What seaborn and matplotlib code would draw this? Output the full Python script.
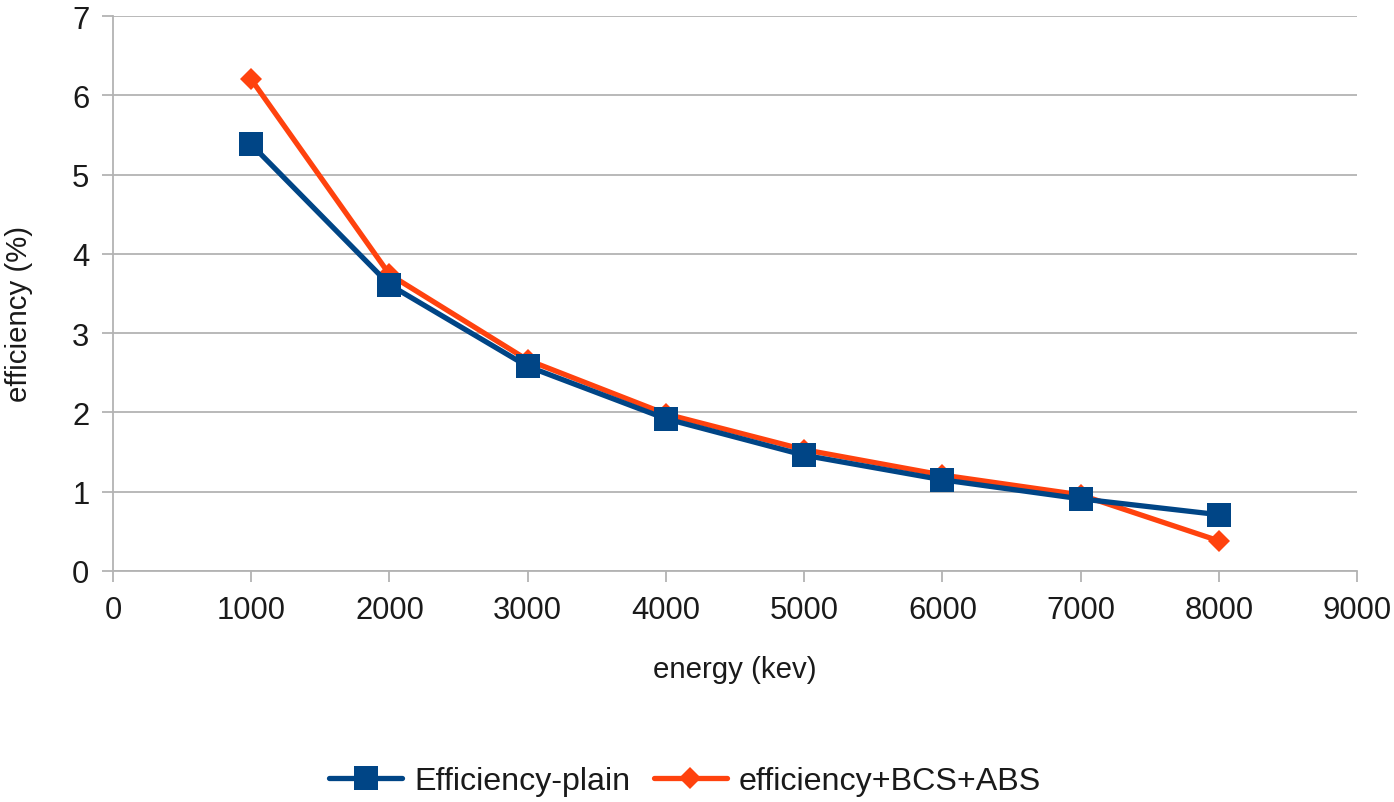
import matplotlib
matplotlib.use("Agg")
import matplotlib.pyplot as plt
import seaborn as sns
import pandas as pd
from matplotlib.lines import Line2D

energy = [1000, 2000, 3000, 4000, 5000, 6000, 7000, 8000]
eff_plain = [5.38, 3.61, 2.58, 1.92, 1.46, 1.15, 0.91, 0.71]
eff_bcs_abs = [6.20, 3.74, 2.66, 1.98, 1.53, 1.21, 0.96, 0.38]
series_names = ["Efficiency-plain", "efficiency+BCS+ABS"]
x_ticks = [0, 1000, 2000, 3000, 4000, 5000, 6000, 7000, 8000, 9000]
y_ticks = [0, 1, 2, 3, 4, 5, 6, 7]

sns.set_theme(style="white")
plt.rcParams['font.family'] = ['Liberation Sans', 'DejaVu Sans']

df = pd.DataFrame({
    "energy": energy * 2,
    "eff": eff_plain + eff_bcs_abs,
    "series": [series_names[0]] * len(energy) + [series_names[1]] * len(energy),
})

colors = {series_names[0]: "#004586", series_names[1]: "#ff420e"}
markers = {series_names[0]: "s", series_names[1]: "D"}

fig = plt.figure(figsize=(13.94, 8.03), dpi=100)
ax = fig.add_axes([0.0811, 0.2877, 0.8924, 0.6911])

grid_c = "#b3b3b3"
for s in series_names:
    sub = df[df.series == s]
    sns.lineplot(data=sub, x="energy", y="eff", ax=ax, color=colors[s],
                 marker=markers[s], markersize=17 if s == series_names[0] else 11,
                 markeredgewidth=0, linewidth=3.8, legend=False,
                 zorder=3 if s == series_names[0] else 2)

ax.set_xlim(0, 9000)
ax.set_ylim(0, 7)
ax.set_xticks(x_ticks)
ax.set_yticks(y_ticks)
ax.set_xticklabels([str(v) for v in x_ticks])
ax.set_yticklabels([str(v) for v in y_ticks])
ax.yaxis.grid(True, color=grid_c, linewidth=1.3)
ax.xaxis.grid(False)
for sp in ["top", "right"]:
    ax.spines[sp].set_visible(False)
for sp in ["left", "bottom"]:
    ax.spines[sp].set_color(grid_c)
    ax.spines[sp].set_linewidth(1.3)
ax.tick_params(axis="both", which="both", length=8, width=1.3, color=grid_c,
               labelsize=22.3, labelcolor="#1a1a1a", pad=9, direction="out",
               bottom=True, left=True)
ax.set_xlabel("energy (kev)", fontsize=21.2, color="#1a1a1a", labelpad=22)
ax.set_ylabel("efficiency (%)", fontsize=21.2, color="#1a1a1a")
ax.yaxis.set_label_coords(-0.0643, 0.465)

handles = [
    Line2D([], [], color=colors[series_names[0]], marker="s", markersize=17,
           markeredgewidth=0, linewidth=3.8),
    Line2D([], [], color=colors[series_names[1]], marker="D", markersize=11,
           markeredgewidth=0, linewidth=3.8),
]
fig.legend(handles, series_names, loc="center", bbox_to_anchor=(0.4914, 0.026),
           ncol=2, frameon=False, fontsize=23.2, handlelength=2.28,
           handletextpad=0.37, columnspacing=0.72, labelcolor="#1a1a1a")

fig.savefig("out.png", dpi=100)
